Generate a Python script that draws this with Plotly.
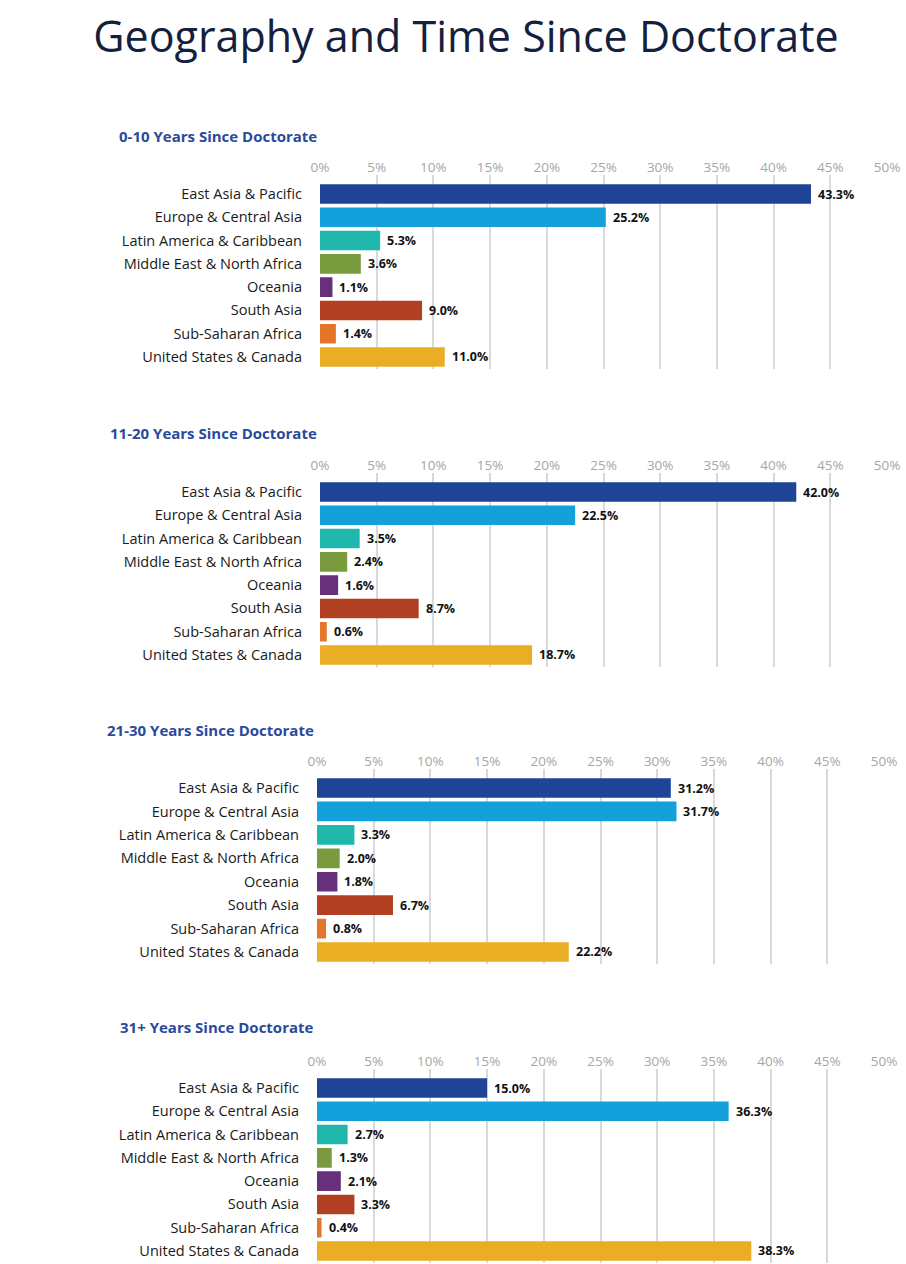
import plotly.graph_objects as go

regions = [
    "East Asia & Pacific",
    "Europe & Central Asia",
    "Latin America & Caribbean",
    "Middle East & North Africa",
    "Oceania",
    "South Asia",
    "Sub-Saharan Africa",
    "United States & Canada",
]
colors = ["#1f4397", "#13a0db", "#20b8ad", "#7a9a3e", "#66307a", "#b04021", "#e3762a", "#eaad23"]

panel_titles = [
    "0-10 Years Since Doctorate",
    "11-20 Years Since Doctorate",
    "21-30 Years Since Doctorate",
    "31+ Years Since Doctorate",
]
yrs_0_10 = [43.3, 25.2, 5.3, 3.6, 1.1, 9.0, 1.4, 11.0]
yrs_11_20 = [42.0, 22.5, 3.5, 2.4, 1.6, 8.7, 0.6, 18.7]
yrs_21_30 = [31.2, 31.7, 3.3, 2.0, 1.8, 6.7, 0.8, 22.2]
yrs_31_plus = [15.0, 36.3, 2.7, 1.3, 2.1, 3.3, 0.4, 38.3]
x_ticks = [0, 5, 10, 15, 20, 25, 30, 35, 40, 45, 50]

W, H = 906, 1264
FONT = "Open Sans"

# pixel layout of each panel: (left, right, top, bottom, subtitle y)
panels = [
    (320, 887, 175.4, 368.6, 136),
    (320, 887, 473.4, 666.6, 433),
    (317, 884, 769.3, 963.7, 730),
    (317, 884, 1069.4, 1262.6, 1027),
]


def px(x):
    return x / W


def py(y):
    return 1 - y / H


fig = go.Figure()
series = [yrs_0_10, yrs_11_20, yrs_21_30, yrs_31_plus]

for i, (vals, (l, r, t, b, sy)) in enumerate(zip(series, panels)):
    n = "" if i == 0 else str(i + 1)
    fig.add_trace(go.Bar(
        x=vals, y=regions, orientation="h",
        marker=dict(color=colors, line=dict(width=0)),
        width=0.84,
        cliponaxis=False,
        xaxis="x" + n, yaxis="y" + n,
        showlegend=False,
        hoverinfo="skip",
    ))
    for v, reg in zip(vals, regions):
        fig.add_annotation(
            x=v, y=reg, xref="x" + n, yref="y" + n,
            text=f"{v:.1f}%", showarrow=False,
            xanchor="left", yanchor="middle", xshift=5,
            font=dict(family=FONT, size=12.5, color="#111111", weight=700),
        )
    fig.update_layout(**{
        "xaxis" + n: dict(
            domain=[px(l), px(r)], anchor="y" + n, side="top",
            range=[0, 50], tickvals=x_ticks, ticktext=[f"{v}%" for v in x_ticks],
            showgrid=True, gridcolor="#d9d9d9", gridwidth=2,
            zeroline=False, showline=False, ticks="",
            tickfont=dict(family=FONT, size=13.5, color="#a6a6a6"),
            automargin=False, fixedrange=True,
        ),
        "yaxis" + n: dict(
            domain=[py(b), py(t)], anchor="x" + n,
            type="category", range=[7.5, -0.8],
            showgrid=False, zeroline=False, showline=False, ticks="",
            ticklabelstandoff=17,
            tickfont=dict(family=FONT, size=14.5, color="#1a1a1a"),
            automargin=False, fixedrange=True,
        ),
    })
    fig.add_annotation(
        text=panel_titles[i], xref="paper", yref="paper",
        x=px(l - 1), y=py(sy), xanchor="right", yanchor="middle",
        showarrow=False,
        font=dict(family=FONT, size=15, color="#2a4a9b", weight=700),
    )

fig.update_layout(
    width=W, height=H,
    margin=dict(l=0, r=0, t=0, b=0, autoexpand=False),
    paper_bgcolor="white", plot_bgcolor="white",
    title=dict(text="Geography and Time Since Doctorate", x=px(466), xanchor="center",
               y=py(37), yanchor="middle",
               font=dict(family=FONT, size=43, color="#14213d")),
)

# drop the default page margin so the figure fills the window exactly
fig.write_html(
    "out.html",
    config={"displayModeBar": False},
    post_script="document.body.style.margin='0';document.body.style.overflow='hidden';",
)
